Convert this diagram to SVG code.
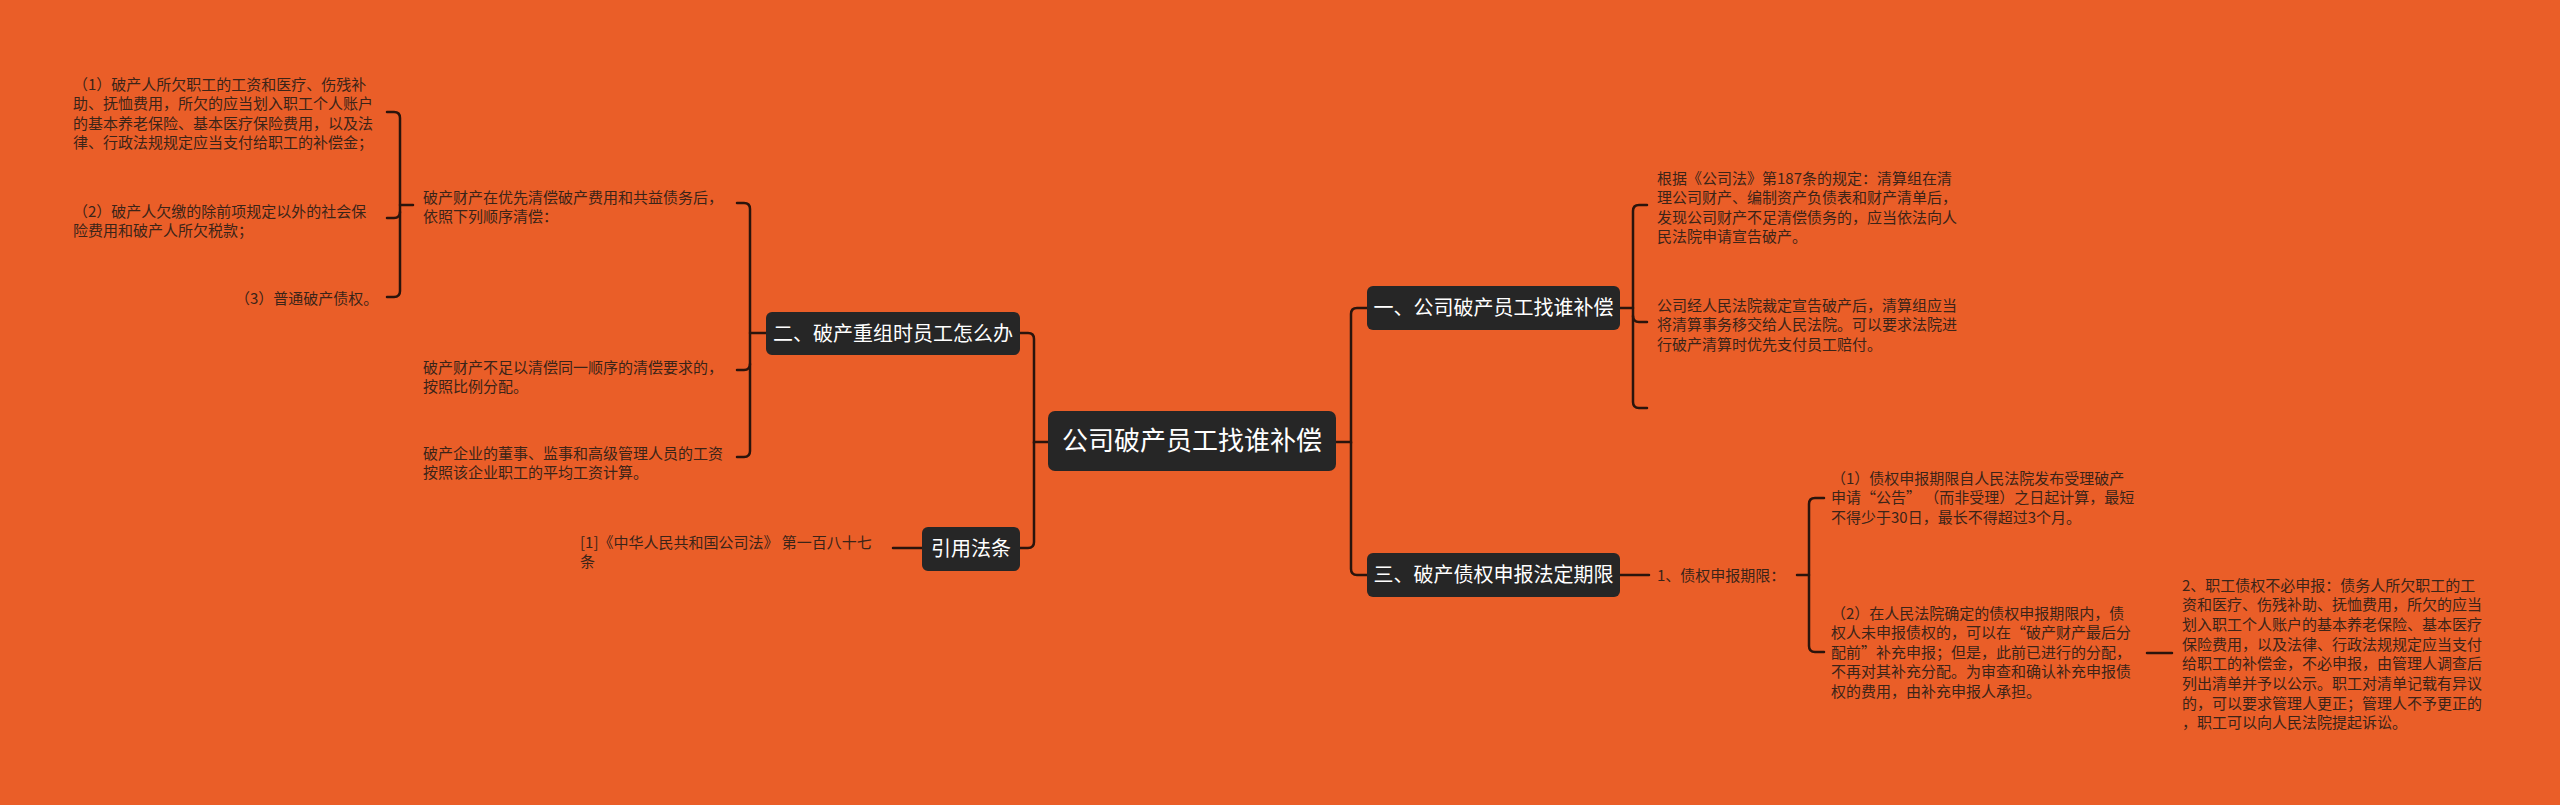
<svg xmlns="http://www.w3.org/2000/svg" width="2560" height="805" viewBox="0 0 2560 805">
<style>
.bg{fill:#EA5E28}
.node rect{fill:#262626}
.node text{fill:#ffffff;font-family:"Noto Sans CJK SC","Noto Sans",sans-serif;text-anchor:middle}
.t{fill:#3b2418;font-family:"Noto Sans CJK SC","Noto Sans",sans-serif;font-size:15px}
#connectors path{fill:none;stroke:#2a140c;stroke-width:2.5;stroke-linecap:round}
</style>
<rect class="bg" x="0" y="0" width="2560" height="805"/>
<g id="connectors">
<path d="M1336,442 H1351 V314 Q1351,308 1357,308 H1367"/>
<path d="M1351,442 V569 Q1351,575 1357,575 H1367"/>
<path d="M1048,442 H1034 V339 Q1034,333 1028,333 H1020"/>
<path d="M1034,442 V542 Q1034,548 1028,548 H1020"/>
<path d="M766,333 H750"/>
<path d="M737,203 H744 Q750,203 750,209 V451 Q750,457 744,457 H737"/>
<path d="M750,364 Q750,370 744,370 H737"/>
<path d="M413,205 H400"/>
<path d="M387,112 H394 Q400,112 400,118 V291 Q400,297 394,297 H387"/>
<path d="M400,212 Q400,218 394,218 H387"/>
<path d="M922,548 H893"/>
<path d="M1620,308 H1633"/>
<path d="M1647,205 H1639 Q1633,205 1633,211 V402 Q1633,408 1639,408 H1647"/>
<path d="M1633,316 Q1633,322 1639,322 H1647"/>
<path d="M1620,575 H1649"/>
<path d="M1797,575 H1809"/>
<path d="M1824,498 H1815 Q1809,498 1809,504 V646 Q1809,652 1815,652 H1824"/>
<path d="M2147,653 H2172"/>
</g>
<g id="node-root" class="node">
<rect x="1048" y="411" width="288" height="60" rx="7"/>
<text x="1192" y="450" font-size="26">公司破产员工找谁补偿</text>
</g>
<g id="node-1" class="node">
<rect x="1367" y="286" width="253" height="44" rx="6"/>
<text x="1493.5" y="315" font-size="20">一、公司破产员工找谁补偿</text>
</g>
<g id="node-3" class="node">
<rect x="1367" y="553" width="253" height="44" rx="6"/>
<text x="1493.5" y="582" font-size="20">三、破产债权申报法定期限</text>
</g>
<g id="node-2" class="node">
<rect x="766" y="312" width="254" height="43" rx="6"/>
<text x="893" y="340.5" font-size="20">二、破产重组时员工怎么办</text>
</g>
<g id="node-cite" class="node">
<rect x="922" y="527" width="98" height="44" rx="6"/>
<text x="971" y="556" font-size="20">引用法条</text>
</g>
<g id="node-2a">
<text class="t" x="423"><tspan x="423" y="202.5">破产财产在优先清偿破产费用和共益债务后，</tspan><tspan x="423" y="222">依照下列顺序清偿：</tspan></text>
</g>
<g id="node-2a1">
<text class="t"><tspan x="73" y="89.5">（1）破产人所欠职工的工资和医疗、伤残补</tspan><tspan x="73" y="109">助、抚恤费用，所欠的应当划入职工个人账户</tspan><tspan x="73" y="128.5">的基本养老保险、基本医疗保险费用，以及法</tspan><tspan x="73" y="148">律、行政法规规定应当支付给职工的补偿金；</tspan></text>
</g>
<g id="node-2a2">
<text class="t"><tspan x="73" y="216.5">（2）破产人欠缴的除前项规定以外的社会保</tspan><tspan x="73" y="236">险费用和破产人所欠税款；</tspan></text>
</g>
<g id="node-2a3">
<text class="t"><tspan x="235" y="303.5">（3）普通破产债权。</tspan></text>
</g>
<g id="node-2b">
<text class="t"><tspan x="423" y="372.5">破产财产不足以清偿同一顺序的清偿要求的，</tspan><tspan x="423" y="392">按照比例分配。</tspan></text>
</g>
<g id="node-2c">
<text class="t"><tspan x="423" y="458.5">破产企业的董事、监事和高级管理人员的工资</tspan><tspan x="423" y="478">按照该企业职工的平均工资计算。</tspan></text>
</g>
<g id="node-cite1">
<text class="t"><tspan x="580" y="547.5">[1]《中华人民共和国公司法》 第一百八十七</tspan><tspan x="580" y="567">条</tspan></text>
</g>
<g id="node-1a">
<text class="t"><tspan x="1657" y="183.5">根据《公司法》第187条的规定：清算组在清</tspan><tspan x="1657" y="203">理公司财产、编制资产负债表和财产清单后，</tspan><tspan x="1657" y="222.5">发现公司财产不足清偿债务的，应当依法向人</tspan><tspan x="1657" y="242">民法院申请宣告破产。</tspan></text>
</g>
<g id="node-1b">
<text class="t"><tspan x="1657" y="310.5">公司经人民法院裁定宣告破产后，清算组应当</tspan><tspan x="1657" y="330">将清算事务移交给人民法院。可以要求法院进</tspan><tspan x="1657" y="349.5">行破产清算时优先支付员工赔付。</tspan></text>
</g>
<g id="node-3a">
<text class="t"><tspan x="1657" y="580.5">1、债权申报期限：</tspan></text>
</g>
<g id="node-3a1">
<text class="t"><tspan x="1831" y="483.5">（1）债权申报期限自人民法院发布受理破产</tspan><tspan x="1831" y="503">申请“公告” （而非受理）之日起计算，最短</tspan><tspan x="1831" y="522.5">不得少于30日，最长不得超过3个月。</tspan></text>
</g>
<g id="node-3a2">
<text class="t"><tspan x="1831" y="618.5">（2）在人民法院确定的债权申报期限内，债</tspan><tspan x="1831" y="638">权人未申报债权的，可以在“破产财产最后分</tspan><tspan x="1831" y="657.5">配前”补充申报；但是，此前已进行的分配，</tspan><tspan x="1831" y="677">不再对其补充分配。为审查和确认补充申报债</tspan><tspan x="1831" y="696.5">权的费用，由补充申报人承担。</tspan></text>
</g>
<g id="node-3b">
<text class="t"><tspan x="2182" y="590.5">2、职工债权不必申报：债务人所欠职工的工</tspan><tspan x="2182" y="610.2">资和医疗、伤残补助、抚恤费用，所欠的应当</tspan><tspan x="2182" y="629.9">划入职工个人账户的基本养老保险、基本医疗</tspan><tspan x="2182" y="649.6">保险费用，以及法律、行政法规规定应当支付</tspan><tspan x="2182" y="669.3">给职工的补偿金，不必申报，由管理人调查后</tspan><tspan x="2182" y="689">列出清单并予以公示。职工对清单记载有异议</tspan><tspan x="2182" y="708.7">的，可以要求管理人更正；管理人不予更正的</tspan><tspan x="2182" y="728.4">，职工可以向人民法院提起诉讼。</tspan></text>
</g>
</svg>
